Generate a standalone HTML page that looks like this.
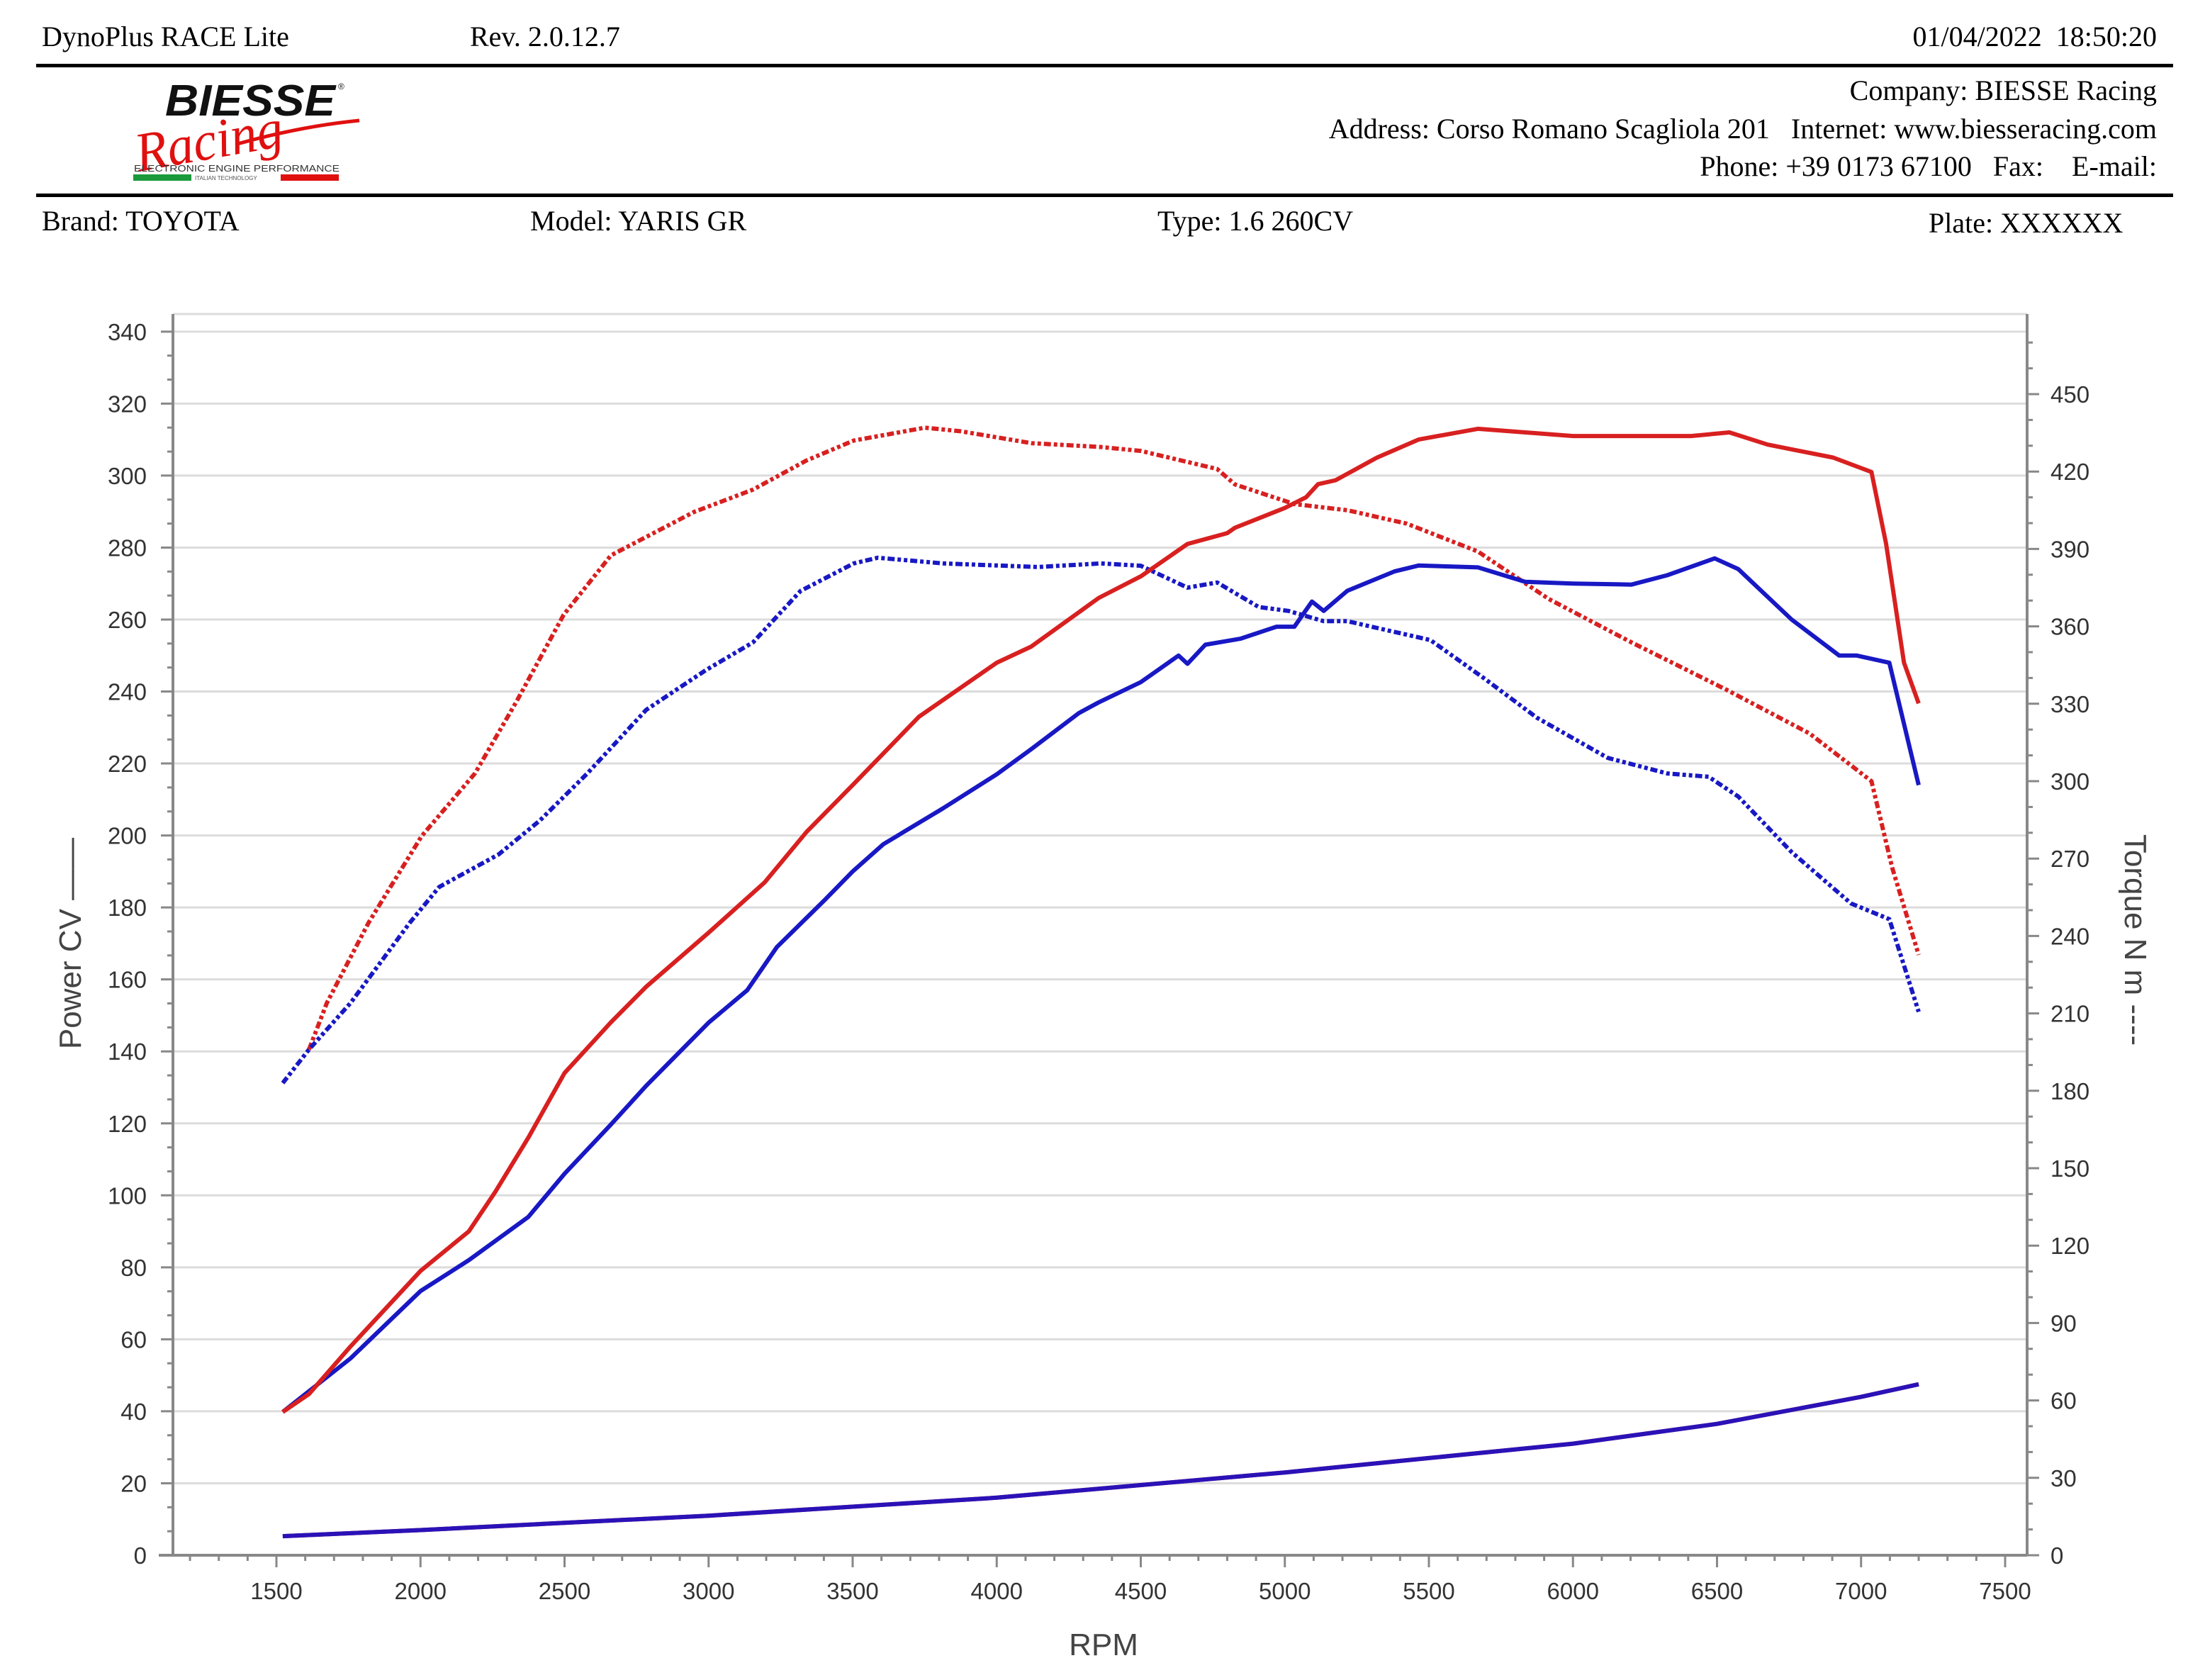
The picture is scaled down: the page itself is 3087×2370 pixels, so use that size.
<!DOCTYPE html>
<html><head><meta charset="utf-8">
<style>
html,body{margin:0;padding:0;background:#fff;}
body{width:3087px;height:2370px;position:relative;overflow:hidden;font-family:"Liberation Serif",serif;}
.t{position:absolute;font-size:40px;color:#000;white-space:nowrap;line-height:1;}
.hr{position:absolute;left:51px;width:3015px;height:5px;background:#000;}
</style></head>
<body>
<div class="t" style="left:59px;top:32px">DynoPlus RACE Lite</div>
<div class="t" style="left:663px;top:32px">Rev. 2.0.12.7</div>
<div class="t" style="right:44px;top:32px">01/04/2022&nbsp; 18:50:20</div>
<div class="hr" style="top:90px"></div>

<div style="position:absolute;left:185px;top:108px;width:330px;height:150px;">
<svg width="330" height="150" viewBox="0 0 330 150">
<text x="48" y="55" font-family="Liberation Sans, sans-serif" font-weight="bold" font-style="italic" font-size="62" fill="#111" textLength="240" lengthAdjust="spacingAndGlyphs">BIESSE</text>
<text x="292" y="18" font-family="Liberation Sans, sans-serif" font-size="12" fill="#111">®</text>
<text x="6" y="118" font-family="Liberation Serif, serif" font-style="italic" font-size="78" fill="#e01010" textLength="210" lengthAdjust="spacingAndGlyphs" transform="rotate(-10 100 100)">Racing</text>
<path d="M150 95 Q240 70 322 62" stroke="#e01010" stroke-width="5" fill="none"/>
<text x="4" y="134" font-family="Liberation Sans, sans-serif" font-size="13" fill="#333" textLength="290" lengthAdjust="spacingAndGlyphs">ELECTRONIC ENGINE PERFORMANCE</text>
<rect x="3" y="138" width="82" height="9" fill="#1a9a3a"/>
<text x="90" y="146" font-family="Liberation Sans, sans-serif" font-size="8" fill="#555">ITALIAN TECHNOLOGY</text>
<rect x="211" y="138" width="82" height="9" fill="#e01010"/>
</svg></div>

<div class="t" style="right:44px;top:108px">Company: BIESSE Racing</div>
<div class="t" style="right:44px;top:162px">Address: Corso Romano Scagliola 201&nbsp;&nbsp; Internet: www.biesseracing.com</div>
<div class="t" style="right:44px;top:215px">Phone: +39 0173 67100&nbsp;&nbsp; Fax: &nbsp;&nbsp; E-mail:</div>
<div class="hr" style="top:273px"></div>

<div class="t" style="left:59px;top:292px">Brand: TOYOTA</div>
<div class="t" style="left:748px;top:292px">Model: YARIS GR</div>
<div class="t" style="left:1633px;top:292px">Type: 1.6 260CV</div>
<div class="t" style="left:2721px;top:295px">Plate: XXXXXX</div>

<svg id="chart" style="position:absolute;left:0;top:0" width="3087" height="2370"></svg>

<script>
const rpmTicks = [1500,2000,2500,3000,3500,4000,4500,5000,5500,6000,6500,7000,7500];
const powerTicks = [0,20,40,60,80,100,120,140,160,180,200,220,240,260,280,300,320,340];
const torqueTicks = [0,30,60,90,120,150,180,210,240,270,300,330,360,390,420,450];

const redPowerRpm = [1522,1613,1757,2000,2168,2260,2374,2500,2660,2784,3000,3195,3340,3500,3730,4000,4120,4354,4500,4662,4800,4827,5000,5074,5115,5176,5320,5464,5670,6000,6410,6543,6676,6903,7036,7087,7149,7200];
const redPowerVal = [39.8,44.8,58,79,90,101,116,134,148,158,173,187,201,214,233,248,252.5,266,272,281,284,285.5,291,294,297.6,298.7,305,310,313,311,311,312,308.6,305,301,281,248,236.7];

const bluePowerRpm = [1522,1757,2000,2168,2374,2500,2660,2784,3000,3134,3237,3402,3500,3607,3813,4000,4120,4285,4354,4500,4631,4662,4724,4847,4971,5033,5094,5135,5217,5382,5464,5670,5834,6000,6203,6327,6492,6574,6759,6924,6985,7098,7200];
const bluePowerVal = [39.8,54.7,73.4,82,94,106,119.6,130.5,148,157,169,182,190,197.6,207.5,217,224,234,237,242.6,250,247.7,253,254.7,258,258,265,262.4,268,273.4,275,274.5,270.5,270,269.7,272.3,277,274,260,250,250,248,214];

const redTorqueRpm = [1613,1675,1819,2004,2189,2333,2497,2661,2949,3154,3340,3504,3751,3875,4121,4362,4500,4765,4827,5033,5217,5423,5670,5916,6203,6533,6821,7036,7108,7200];
const redTorqueVal = [196,214,245,278.7,303,330.8,364.5,387.5,404.3,413,424.3,432,437,435.6,431,429.5,428,421,415,407.4,405,399.8,389,370.6,353.8,335.4,318.5,300,266.4,232.7];

const blueTorqueRpm = [1522,1613,1757,1962,2065,2271,2415,2579,2784,2990,3154,3319,3504,3587,3813,4142,4362,4500,4662,4765,4909,5012,5135,5217,5382,5505,5690,5875,6121,6327,6471,6574,6759,6965,7098,7200];
const blueTorqueVal = [183,196,214,245,259,271.6,284.8,303,327.7,343,353.8,373.7,384.4,386.6,384.4,383,384.4,383.5,375,377,367.5,366,362,362,357.8,354.7,340,324.6,309,303,301.7,294,272.5,252.6,246.5,210.6];

const lossRpm = [1522,2000,2500,3000,3500,4000,4500,5000,5500,6000,6500,7000,7200];
const lossVal = [5.3,7,9,11,13.5,16,19.5,23,27,31,36.5,44,47.5];

const NS='http://www.w3.org/2000/svg';
const svg=document.getElementById('chart');
const L=244,R=2860,T=443,B=2194;
const xS=r=>390+(r-1500)*0.4065;
const yP=v=>B-v*5.077;
const yT=v=>B-v*3.64;
function mk(tag,attrs){const e=document.createElementNS(NS,tag);for(const k in attrs)e.setAttribute(k,attrs[k]);svg.appendChild(e);return e;}

const gTop=mk('line',{x1:L,x2:R,y1:T,y2:T,stroke:'#dcdcdc','stroke-width':3});


powerTicks.forEach(v=>{
  if(v===0)return;
  const g=mk('line',{x1:L,x2:R,y1:yP(v),y2:yP(v),stroke:'#dcdcdc','stroke-width':3});
  
  
});
for(let v=0;v<=346;v+=20/3){
  const major=Math.abs(v/20-Math.round(v/20))<0.01;
  mk('line',{x1:major?227:236,x2:L,y1:yP(v),y2:yP(v),stroke:'#888','stroke-width':3});
}
powerTicks.forEach(v=>{
  const t=mk('text',{x:207,y:yP(v)+12,'text-anchor':'end','font-family':'Liberation Sans, sans-serif','font-size':33,fill:'#333'});
  t.textContent=v;
  
  
});
for(let v=0;v<=470;v+=10){
  const major=v%30===0;
  mk('line',{x1:R,x2:major?2877:2868,y1:yT(v),y2:yT(v),stroke:'#888','stroke-width':3});
}
torqueTicks.forEach(v=>{
  const t=mk('text',{x:2893,y:yT(v)+12,'text-anchor':'start','font-family':'Liberation Sans, sans-serif','font-size':33,fill:'#333'});
  t.textContent=v;
  
  
});
for(let r=1200;r<=7500;r+=100){
  const major=r%500===0;
  mk('line',{x1:xS(r),x2:xS(r),y1:B,y2:major?2211:2202,stroke:'#888','stroke-width':3});
}
rpmTicks.forEach(r=>{
  const t=mk('text',{x:xS(r),y:2256,'text-anchor':'middle','font-family':'Liberation Sans, sans-serif','font-size':33,fill:'#333'});
  t.textContent=r;
  
  
});
const ax1=mk('line',{x1:L,x2:L,y1:T,y2:B,stroke:'#888','stroke-width':4});


const ax2=mk('line',{x1:R,x2:R,y1:T,y2:B,stroke:'#888','stroke-width':4});


const ax3=mk('line',{x1:L-20,x2:R,y1:B,y2:B,stroke:'#888','stroke-width':4});



function series(rpms,vals,yf,color,dashed,name){
  const pts=rpms.map((r,i)=>xS(r).toFixed(1)+','+yf(vals[i]).toFixed(1)).join(' ');
  const a={points:pts,fill:'none',stroke:color,'stroke-width':dashed?6:6,'stroke-linejoin':'round','stroke-linecap':'butt'};
  if(dashed)a['stroke-dasharray']='10 4 5 4 5 4';
  const p=mk('polyline',a);
  
  
}
const RED='#d82020',BLUE='#1818c4';
series(lossRpm,lossVal,yP,RED,false,'red-loss-power-line');
series(lossRpm,lossVal,yP,'#2a12b8',false,'blue-loss-power-line');
series(redTorqueRpm,redTorqueVal,yT,RED,true,'red-torque-line');
series(blueTorqueRpm,blueTorqueVal,yT,BLUE,true,'blue-torque-line');
series(bluePowerRpm,bluePowerVal,yP,BLUE,false,'blue-power-line');
series(redPowerRpm,redPowerVal,yP,RED,false,'red-power-line');

const t1=mk('text',{x:0,y:0,transform:'translate(114 1331) rotate(-90)','text-anchor':'middle','font-family':'Liberation Sans, sans-serif','font-size':44,fill:'#444'});
t1.textContent='Power CV ——';


const t2=mk('text',{x:0,y:0,transform:'translate(2998 1326) rotate(90)','text-anchor':'middle','font-family':'Liberation Sans, sans-serif','font-size':44,fill:'#444'});
t2.textContent='Torque N m ----';


const t3=mk('text',{x:1557,y:2335,'text-anchor':'middle','font-family':'Liberation Sans, sans-serif','font-size':44,fill:'#444'});
t3.textContent='RPM';


</script>
</body></html>
